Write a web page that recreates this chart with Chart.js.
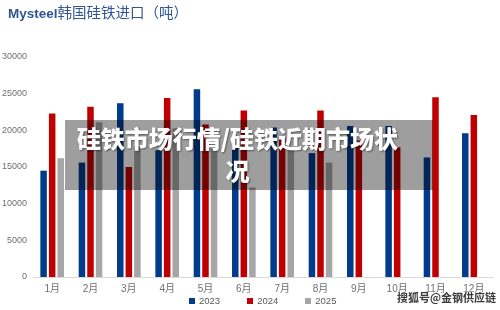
<!DOCTYPE html>
<html>
<head>
<meta charset="utf-8">
<script src="https://cdn.jsdelivr.net/npm/chart.js@4.4.1/dist/chart.umd.min.js"></script>
<style>
  html, body { margin: 0; padding: 0; background: #fff; }
  #wrap { position: relative; width: 500px; height: 310px; overflow: hidden; }
  #c { position: absolute; left: 0; top: 0; }
  #title { position: absolute; left: 8px; top: 2px; height: 20px; line-height: 20px; color: #2F5597; white-space: nowrap; }
  #title .en { font-family: 'Liberation Sans', Arial, sans-serif; font-weight: bold; font-size: 13.5px; }
  #title .zh { font-family: 'Noto Sans CJK SC', sans-serif; font-size: 14.5px; }
  #legend { position: absolute; left: 189px; top: 295px; display: flex; gap: 27px; font-family: 'Liberation Sans', Arial, sans-serif; font-size: 9.5px; color: #595959; }
  #legend .item { display: flex; align-items: center; }
  #legend .sw { width: 6px; height: 6px; margin-right: 4px; }
  #overlay { position: absolute; left: 65px; top: 119.5px; width: 368px; height: 70.5px; background: rgba(0,0,0,0.38); }
  #overlayText { position: absolute; left: 65px; top: 122px; width: 345px; text-align: center; font-family: 'Noto Sans CJK SC', sans-serif; font-weight: 900; font-size: 24px; line-height: 32px; color: #fff; text-shadow: 1px 1px 2px rgba(0,0,0,0.45); white-space: nowrap; }
  #wm { position: absolute; left: 397px; top: 290px; font-family: 'Noto Sans CJK SC', sans-serif; font-size: 11px; line-height: 14px; color: #3a3a3a; font-weight: bold; text-shadow: 0 0 2px #fff, 0 0 2px #fff; white-space: nowrap; }
</style>
</head>
<body>
<div id="wrap">
  <canvas id="c" width="500" height="310"></canvas>
  <div id="title"><span class="en">Mysteel</span><span class="zh">韩国硅铁进口（吨）</span></div>
  <div id="legend"></div>
  <div id="overlay"></div>
  <div id="overlayText">硅铁市场行情/硅铁近期市场状<br>况</div>
  <div id="wm">搜狐号@金钢供应链</div>
</div>
<script>
const months = ['1月','2月','3月','4月','5月','6月','7月','8月','9月','10月','11月','12月'];
const years = ['2023','2024','2025'];
const values2023 = [14500, 15600, 23700, 17300, 25600, 17700, 20400, 16900, 20600, 20600, 16300, 19600];
const values2024 = [22300, 23200, 15000, 24400, 20800, 22700, 18900, 22700, 18600, 17700, 24500, 22100];
const values2025 = [16200, 21100, 17800, 20300, 17400, 12200, 17700, 15600, null, null, null, null];
const yTicks = [0, 5000, 10000, 15000, 20000, 25000, 30000];
const colors = ['#003B8C', '#C00000', '#A6A6A6'];

const fontFam = "'Liberation Sans', 'Noto Sans CJK SC', sans-serif";
const seriesValues = [values2023, values2024, values2025];

const chart = new Chart(document.getElementById('c'), {
  type: 'bar',
  data: {
    labels: months,
    datasets: years.map((y, i) => ({
      label: y,
      data: seriesValues[i],
      backgroundColor: colors[i],
      borderWidth: 0,
      barPercentage: 0.76,
      categoryPercentage: 0.67
    }))
  },
  options: {
    responsive: false,
    animation: false,
    layout: { padding: { top: 57, right: 7, left: 0, bottom: 0 } },
    plugins: { legend: { display: false }, title: { display: false }, tooltip: { enabled: false } },
    scales: {
      x: {
        grid: { display: false, drawTicks: false },
        border: { display: true, color: '#D9D9D9', width: 1 },
        ticks: { color: '#6F6F6F', font: { family: fontFam, size: 10 }, padding: 6, maxRotation: 0, autoSkip: false },
        afterFit: s => { s.height = 33; }
      },
      y: {
        min: yTicks[0],
        max: yTicks[yTicks.length - 1],
        grid: { display: false, drawTicks: false },
        border: { display: false },
        afterBuildTicks: s => { s.ticks = yTicks.map(v => ({ value: v })); },
        ticks: { color: '#6F6F6F', font: { family: fontFam, size: 9 }, padding: 6, callback: v => String(v) },
        afterFit: s => { s.width = 33; }
      }
    }
  }
});

const lg = document.getElementById('legend');
chart.data.datasets.forEach(ds => {
  const it = document.createElement('div');
  it.className = 'item';
  const sw = document.createElement('span');
  sw.className = 'sw';
  sw.style.background = ds.backgroundColor;
  const tx = document.createElement('span');
  tx.textContent = ds.label;
  it.appendChild(sw); it.appendChild(tx);
  lg.appendChild(it);
});
</script>
</body>
</html>
